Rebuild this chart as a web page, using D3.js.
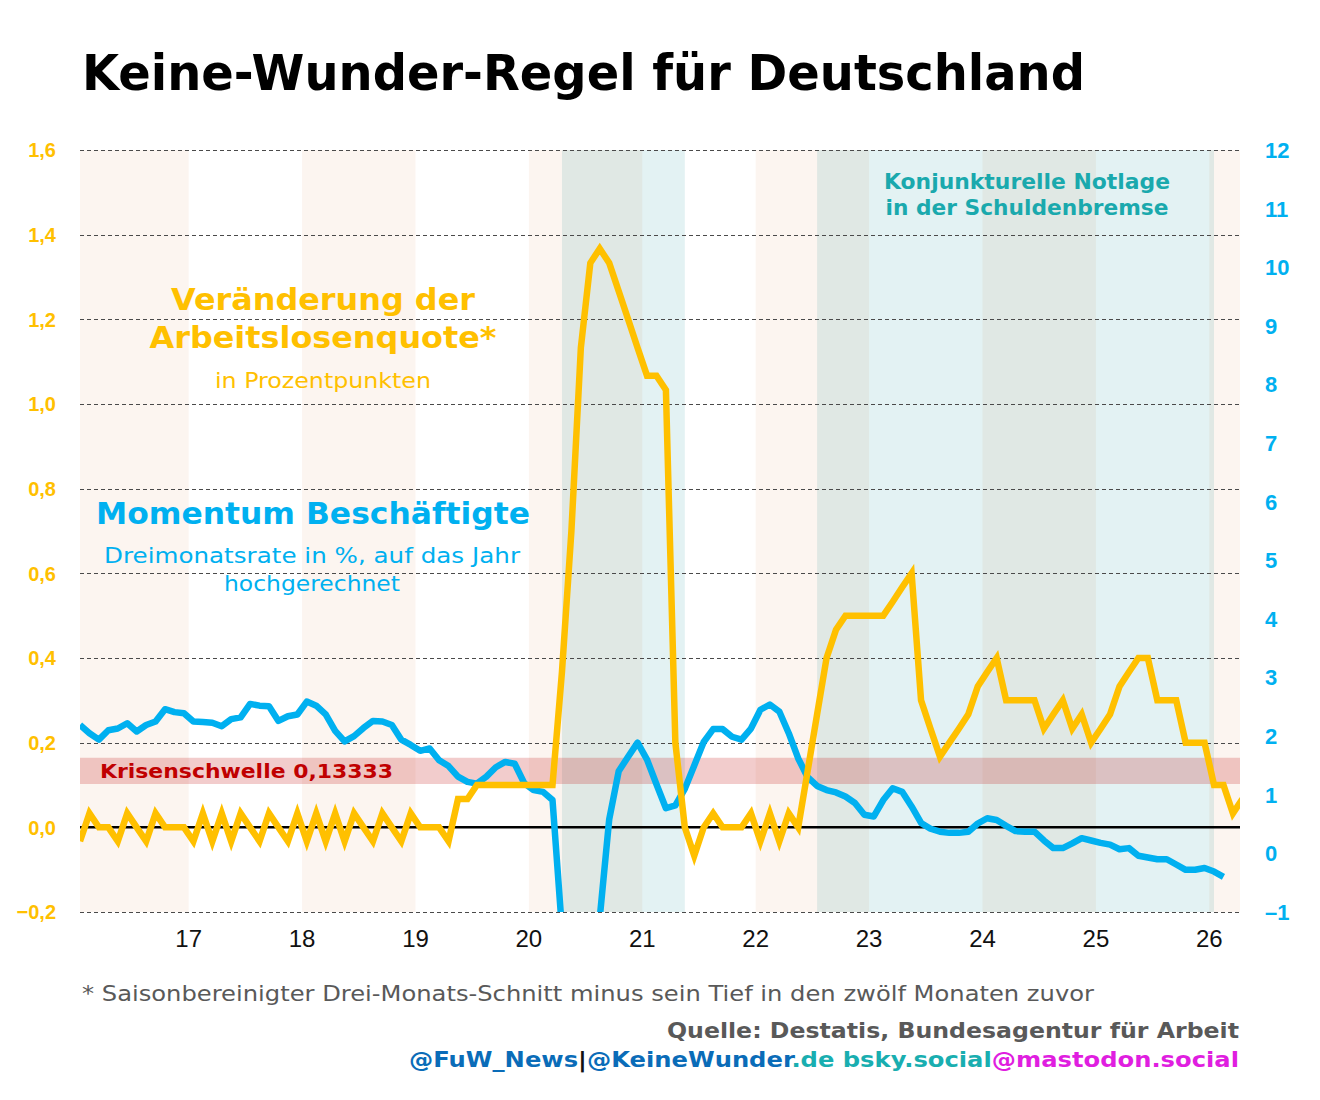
<!DOCTYPE html>
<html lang="de">
<head>
<meta charset="utf-8">
<title>Keine-Wunder-Regel für Deutschland</title>
<script src="https://cdn.jsdelivr.net/npm/d3@7"></script>
<style>
    body { margin: 0; background: #ffffff; }
    #chart { width: 1320px; height: 1100px; }
    svg text { font-family: "DejaVu Sans", Verdana, sans-serif; }
    svg .axis-label { font-family: "Liberation Sans", Arial, Helvetica, sans-serif; }
</style>
</head>
<body>
<div id="chart"></div>
<script>
// Daten: Monatswerte ab Januar 2016
const startJahr = 2016;
const jahre = [2017, 2018, 2019, 2020, 2021, 2022, 2023, 2024, 2025, 2026];
const jahresLabels = ["17", "18", "19", "20", "21", "22", "23", "24", "25", "26"];
const hintergrundJahre = [2016, 2018, 2020, 2022, 2024, 2026];
const notlagen = [[[2020, 4], [2021, 5]], [[2022, 7], [2026, 1]]];
const ticksLinks = [-0.2, 0, 0.2, 0.4, 0.6, 0.8, 1.0, 1.2, 1.4, 1.6];
const ticksRechts = [-1, 0, 1, 2, 3, 4, 5, 6, 7, 8, 9, 10, 11, 12];
const krisenschwelle = 0.13333;

// Veränderung der Arbeitslosenquote in Prozentpunkten (linke Achse)
const arbeitslosenquote = [
    -0.033, 0.033, 0, 0, -0.033, 0.033, 0, -0.033, 0.033, 0, 0, 0,
    -0.033, 0.033, -0.033, 0.033, -0.033, 0.033, 0, -0.033, 0.033, 0, -0.033, 0.033,
    -0.033, 0.033, -0.033, 0.033, -0.033, 0.033, 0, -0.033, 0.033, 0, -0.033, 0.033,
    0, 0, 0, -0.033, 0.067, 0.067, 0.1, 0.1, 0.1, 0.1, 0.1, 0.1,
    0.1, 0.1, 0.1, 0.367, 0.7, 1.133, 1.333, 1.367, 1.333, 1.267, 1.2, 1.133,
    1.067, 1.067, 1.033, 0.2, 0, -0.067, 0, 0.033, 0, 0, 0, 0.033,
    -0.033, 0.033, -0.033, 0.033, 0, 0.133, 0.267, 0.4, 0.467, 0.5, 0.5, 0.5,
    0.5, 0.5, 0.533, 0.567, 0.6, 0.3, 0.233, 0.167, 0.2, 0.233, 0.267, 0.333,
    0.367, 0.4, 0.3, 0.3, 0.3, 0.3, 0.233, 0.267, 0.3, 0.233, 0.267, 0.2,
    0.233, 0.267, 0.333, 0.367, 0.4, 0.4, 0.3, 0.3, 0.3, 0.2, 0.2, 0.2,
    0.1, 0.1, 0.033, 0.067
];

// Momentum Beschäftigte, Dreimonatsrate in %, annualisiert (rechte Achse)
const momentum = [
    2.19, 2.05, 1.94, 2.1, 2.13, 2.22, 2.08, 2.19, 2.25, 2.46, 2.41, 2.39,
    2.25, 2.24, 2.23, 2.17, 2.29, 2.32, 2.55, 2.52, 2.51, 2.26, 2.34, 2.37,
    2.59, 2.52, 2.37, 2.09, 1.91, 2.0, 2.14, 2.26, 2.25, 2.19, 1.94, 1.85,
    1.75, 1.79, 1.59, 1.49, 1.31, 1.22, 1.19, 1.31, 1.47, 1.56, 1.53, 1.2,
    1.08, 1.05, 0.91, -1.3, -4.5, -5.5, -3.5, -1.1, 0.58, 1.4, 1.65, 1.89,
    1.6, 1.18, 0.77, 0.82, 1.1, 1.5, 1.9, 2.12, 2.12, 1.99, 1.94, 2.13,
    2.45, 2.54, 2.42, 2.05, 1.62, 1.3, 1.15, 1.08, 1.04, 0.97, 0.86, 0.66,
    0.63, 0.91, 1.11, 1.05, 0.8, 0.52, 0.42, 0.37, 0.35, 0.35, 0.37, 0.51,
    0.6, 0.57, 0.47, 0.38, 0.37, 0.37, 0.22, 0.09, 0.09, 0.17, 0.26, 0.22,
    0.18, 0.15, 0.07, 0.09, -0.04, -0.07, -0.1, -0.1, -0.19, -0.28, -0.28, -0.25,
    -0.31, -0.4
];

const monatsIndex = (jahr, monat) => (jahr - startJahr) * 12 + (monat - 1);

class KeineWunderChart {
    constructor(parentElement) {
        this.parentElement = parentElement;
        this.initVis();
    }

    initVis() {
        let vis = this;

        vis.width = 1320;
        vis.height = 1100;
        vis.plot = { left: 80, right: 1240, top: 150, bottom: 912 };
        vis.colors = {
            gelb: "#ffc000", blau: "#00b0f0", beige: "#fcf5f0", tuerkis: "#e3f2f3",
            tuerkisText: "#1aa9ad", rot: "#c00000", grau: "#595959"
        };

        vis.svg = d3.select("#" + vis.parentElement)
            .append("svg")
            .attr("width", vis.width)
            .attr("height", vis.height);

        vis.x = d3.scaleLinear().domain([0, 122.75]).range([vis.plot.left, vis.plot.right]);
        vis.yLinks = d3.scaleLinear().domain([-0.2, 1.6]).range([vis.plot.bottom, vis.plot.top]);
        vis.yRechts = d3.scaleLinear().domain([-1, 12]).range([vis.plot.bottom, vis.plot.top]);

        vis.svg.append("clipPath").attr("id", "plot-clip")
            .append("rect")
            .attr("x", vis.plot.left)
            .attr("y", vis.plot.top)
            .attr("width", vis.plot.right - vis.plot.left)
            .attr("height", vis.plot.bottom - vis.plot.top);

        vis.drawBackground();
        vis.drawGrid();
        vis.drawLines();
        vis.drawAxes();
        vis.drawTexts();
    }

    drawBackground() {
        let vis = this;
        let bg = vis.svg.append("g").attr("clip-path", "url(#plot-clip)");

        // gerade Jahre leicht beige hinterlegt
        bg.selectAll("rect.jahr")
            .data(hintergrundJahre)
            .enter()
            .append("rect")
            .attr("class", "jahr")
            .attr("x", d => vis.x(monatsIndex(d, 1) - 0.5))
            .attr("width", d => vis.x(monatsIndex(d + 1, 1) - 0.5) - vis.x(monatsIndex(d, 1) - 0.5))
            .attr("y", vis.plot.top)
            .attr("height", vis.plot.bottom - vis.plot.top)
            .attr("fill", vis.colors.beige);

        // Konjunkturelle Notlage
        bg.selectAll("rect.notlage")
            .data(notlagen)
            .enter()
            .append("rect")
            .attr("class", "notlage")
            .attr("x", d => vis.x(monatsIndex(...d[0])))
            .attr("width", d => vis.x(monatsIndex(...d[1])) - vis.x(monatsIndex(...d[0])))
            .attr("y", vis.plot.top)
            .attr("height", vis.plot.bottom - vis.plot.top)
            .attr("fill", vis.colors.tuerkis)
            .style("mix-blend-mode", "multiply");
    }

    drawGrid() {
        let vis = this;

        vis.svg.selectAll("line.grid")
            .data(ticksLinks.filter(d => d !== 0))
            .enter()
            .append("line")
            .attr("class", "grid")
            .attr("x1", vis.plot.left)
            .attr("x2", vis.plot.right)
            .attr("y1", d => Math.round(vis.yLinks(d)) + 0.5)
            .attr("y2", d => Math.round(vis.yLinks(d)) + 0.5)
            .attr("stroke", "#4a4a4a")
            .attr("stroke-width", 1)
            .attr("stroke-dasharray", "4,3");

        // Krisenschwelle als Band
        vis.svg.append("rect")
            .attr("x", vis.plot.left)
            .attr("width", vis.plot.right - vis.plot.left)
            .attr("y", vis.yLinks(krisenschwelle + 0.031))
            .attr("height", vis.yLinks(krisenschwelle - 0.031) - vis.yLinks(krisenschwelle + 0.031))
            .attr("fill", vis.colors.rot)
            .attr("opacity", 0.2);

        vis.svg.append("text")
            .attr("x", 100)
            .attr("y", vis.yLinks(krisenschwelle) + 7)
            .attr("fill", vis.colors.rot)
            .attr("font-size", 20)
            .attr("font-weight", "bold")
            .attr("textLength", 293)
            .attr("lengthAdjust", "spacingAndGlyphs")
            .text("Krisenschwelle " + String(krisenschwelle).replace(".", ","));

        vis.svg.append("line")
            .attr("x1", vis.plot.left)
            .attr("x2", vis.plot.right)
            .attr("y1", vis.yLinks(0))
            .attr("y2", vis.yLinks(0))
            .attr("stroke", "#000")
            .attr("stroke-width", 2.5);
    }

    drawLines() {
        let vis = this;
        let g = vis.svg.append("g").attr("clip-path", "url(#plot-clip)");

        let lineRechts = d3.line().x((d, i) => vis.x(i)).y(d => vis.yRechts(d));
        let lineLinks = d3.line().x((d, i) => vis.x(i)).y(d => vis.yLinks(d));

        g.append("path")
            .datum(momentum)
            .attr("d", lineRechts)
            .attr("fill", "none")
            .attr("stroke", vis.colors.blau)
            .attr("stroke-width", 6.5)
            .attr("stroke-linejoin", "round");

        g.append("path")
            .datum(arbeitslosenquote)
            .attr("d", lineLinks)
            .attr("fill", "none")
            .attr("stroke", vis.colors.gelb)
            .attr("stroke-width", 6.5)
            .attr("stroke-linejoin", "miter")
            .attr("stroke-miterlimit", 4);
    }

    drawAxes() {
        let vis = this;
        let fmt = d3.format(".1f");

        vis.svg.selectAll("text.links")
            .data(ticksLinks)
            .enter()
            .append("text")
            .attr("class", "links axis-label")
            .attr("x", 56)
            .attr("y", d => vis.yLinks(d))
            .attr("dy", "0.36em")
            .attr("text-anchor", "end")
            .attr("font-size", 20)
            .attr("font-weight", "bold")
            .attr("fill", vis.colors.gelb)
            .text(d => fmt(d).replace(".", ",").replace("-", "\u2013"));

        vis.svg.selectAll("text.rechts")
            .data(ticksRechts)
            .enter()
            .append("text")
            .attr("class", "rechts axis-label")
            .attr("x", 1265)
            .attr("y", d => vis.yRechts(d))
            .attr("dy", "0.36em")
            .attr("font-size", 22)
            .attr("font-weight", "bold")
            .attr("fill", vis.colors.blau)
            .text(d => String(d).replace("-", "\u2013"));

        vis.svg.selectAll("text.jahr")
            .data(jahre)
            .enter()
            .append("text")
            .attr("class", "jahr axis-label")
            .attr("x", d => vis.x(monatsIndex(d, 1) - 0.5))
            .attr("y", 947)
            .attr("text-anchor", "middle")
            .attr("font-size", 24)
            .attr("fill", "#111")
            .text((d, i) => jahresLabels[i]);
    }

    drawTexts() {
        let vis = this;

        let texts = [
            { t: "Keine-Wunder-Regel für Deutschland", x: 82, y: 90, size: 50, bold: true, fill: "#000", w: 1003, anchor: "start" },
            { t: "Veränderung der", x: 323, y: 310, size: 30, bold: true, fill: vis.colors.gelb, w: 304 },
            { t: "Arbeitslosenquote*", x: 323, y: 348, size: 30, bold: true, fill: vis.colors.gelb, w: 347 },
            { t: "in Prozentpunkten", x: 323, y: 388, size: 21, bold: false, fill: vis.colors.gelb, w: 216 },
            { t: "Momentum Beschäftigte", x: 313, y: 524, size: 30, bold: true, fill: vis.colors.blau, w: 434 },
            { t: "Dreimonatsrate in %, auf das Jahr", x: 312, y: 563, size: 21, bold: false, fill: vis.colors.blau, w: 416 },
            { t: "hochgerechnet", x: 312, y: 591, size: 21, bold: false, fill: vis.colors.blau, w: 176 },
            { t: "Konjunkturelle Notlage", x: 1027, y: 189, size: 22, bold: true, fill: vis.colors.tuerkisText, w: 286 },
            { t: "in der Schuldenbremse", x: 1027, y: 215, size: 22, bold: true, fill: vis.colors.tuerkisText, w: 283 },
            { t: "* Saisonbereinigter Drei-Monats-Schnitt minus sein Tief in den zwölf Monaten zuvor", x: 82, y: 1001, size: 21, bold: false, fill: vis.colors.grau, w: 1012, anchor: "start" },
            { t: "Quelle: Destatis, Bundesagentur für Arbeit", x: 1239, y: 1038, size: 21, bold: true, fill: vis.colors.grau, w: 572, anchor: "end" }
        ];

        vis.svg.selectAll("text.label")
            .data(texts)
            .enter()
            .append("text")
            .attr("class", "label")
            .attr("x", d => d.x)
            .attr("y", d => d.y)
            .attr("text-anchor", d => d.anchor || "middle")
            .attr("font-size", d => d.size)
            .attr("font-weight", d => d.bold ? "bold" : "normal")
            .attr("fill", d => d.fill)
            .attr("textLength", d => d.w)
            .attr("lengthAdjust", "spacingAndGlyphs")
            .text(d => d.t);

        let social = [
            { t: "@FuW_News", fill: "#0a6cb8" },
            { t: "|", fill: "#111" },
            { t: "@KeineWunder", fill: "#0a6cb8" },
            { t: ".de bsky.social", fill: "#19aeb0" },
            { t: "@mastodon.social", fill: "#e01ee0" }
        ];

        let s = vis.svg.append("text")
            .attr("x", 1239)
            .attr("y", 1067)
            .attr("text-anchor", "end")
            .attr("font-size", 21)
            .attr("font-weight", "bold")
            .attr("textLength", 830)
            .attr("lengthAdjust", "spacingAndGlyphs");

        s.selectAll("tspan")
            .data(social)
            .enter()
            .append("tspan")
            .attr("fill", d => d.fill)
            .text(d => d.t);
    }
}

new KeineWunderChart("chart");
</script>
</body>
</html>
